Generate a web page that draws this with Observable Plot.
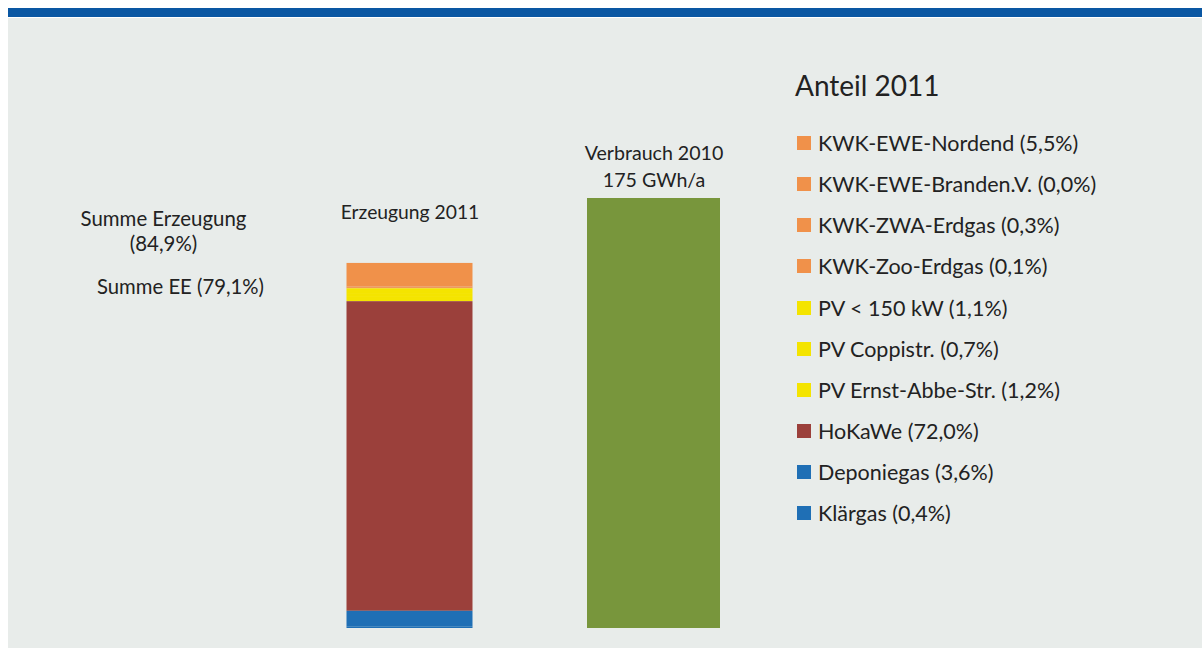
<!DOCTYPE html>
<html>
<head>
<meta charset="utf-8">
<script src="https://cdn.jsdelivr.net/npm/d3@7"></script>
<script src="https://cdn.jsdelivr.net/npm/@observablehq/plot@0.6"></script>
<style>
  html, body { margin: 0; padding: 0; background: #ffffff; }
  body { width: 1202px; height: 648px; position: relative; overflow: hidden; font-family: Lato, "Open Sans", sans-serif; color: #222; }
  #topbar { position: absolute; left: 8px; top: 8px; width: 1194px; height: 9px; background: #0a57a3; }
  #panel { position: absolute; left: 8px; top: 18px; width: 1194px; height: 630px; background: #e8ecea; }
  #chart { position: absolute; left: 0; top: 0; }
  #legend { position: absolute; left: 797px; top: 0; }
  #legend .title { position: absolute; left: -2px; top: 68px; font-size: 28px; line-height: 34px; white-space: nowrap; }
  #legend .row { position: absolute; left: 0; height: 42px; display: flex; align-items: center; white-space: nowrap; font-size: 21.5px; }
  #legend .sw { width: 14px; height: 14px; margin-right: 7px; flex: none; }
</style>
</head>
<body>
<div id="topbar"></div>
<div id="panel"></div>
<div id="chart"></div>
<div id="legend"></div>
<script>
// ---- data ----
const bars = ["Erzeugung 2011", "Verbrauch 2010"];
const sources = ["KWK-EWE-Nordend", "KWK-EWE-Branden.V.", "KWK-ZWA-Erdgas", "KWK-Zoo-Erdgas", "PV < 150 kW", "PV Coppistr.", "PV Ernst-Abbe-Str.", "HoKaWe", "Deponiegas", "Klärgas"];
const shares = [5.5, 0.0, 0.3, 0.1, 1.1, 0.7, 1.2, 72.0, 3.6, 0.4];
const sourceColors = ["#f0914a", "#f0914a", "#f0914a", "#f0914a", "#f4e400", "#f4e400", "#f4e400", "#9b403b", "#1f6fb5", "#1f6fb5"];
const consumption = 100;           // Verbrauch 2010 = 175 GWh/a = 100 %
const consumptionLabel = "Verbrauch 2010\n175 GWh/a";
const consumptionColor = "#78963c";
const sumTotal = 84.9;
const sumEE = 79.1;
const sumTotalLabel = "Summe Erzeugung\n(84,9%)";
const sumEELabel = "Summe EE (79,1%)";
const legendTitle = "Anteil 2011";

const fmt = v => v.toFixed(1).replace(".", ",");

// stacking order: bottom = Klärgas ... top = KWK-EWE-Nordend
const stackData = sources.map((s, i) => ({bar: bars[0], source: s, value: shares[i], order: sources.length - i}));

const chart = Plot.plot({
  width: 1202,
  height: 648,
  marginTop: 198,
  marginBottom: 20,
  marginLeft: 0,
  marginRight: 0,
  style: {background: "transparent", fontFamily: "Lato, 'Open Sans', sans-serif", color: "#222"},
  x: {type: "band", domain: bars, range: [342.5, 720], paddingInner: 0.456, paddingOuter: 0, axis: null},
  y: {domain: [0, 100], axis: null},
  color: {domain: sources, range: sourceColors},
  marks: [
    Plot.barY(stackData, Plot.stackY({
      x: "bar", y: "value", fill: "source", order: "order", insetLeft: 3.5, insetRight: 3.5
    })),
    Plot.barY([{bar: bars[1], value: consumption}], {x: "bar", y: "value", fill: consumptionColor}),
    Plot.text([{bar: bars[0], value: sumTotal}], {x: "bar", y: "value", text: d => d.bar, fontSize: 19.3, dy: -51, fill: "#222"}),
    Plot.text([{bar: bars[1], value: consumption}], {x: "bar", y: "value", text: () => consumptionLabel, fontSize: 19.6, lineHeight: 1.38, dy: -34, fill: "#222"}),
    Plot.text([{value: sumTotal}], {y: "value", frameAnchor: "left", textAnchor: "middle", dx: 163, dy: -33, lineHeight: 1.25, text: () => sumTotalLabel, fontSize: 20.4, fill: "#222"}),
    Plot.text([{value: sumEE}], {y: "value", frameAnchor: "left", textAnchor: "middle", dx: 180, dy: -1, text: () => sumEELabel, fontSize: 20.3, fill: "#222"})
  ]
});
document.getElementById("chart").appendChild(chart);

// ---- legend ----
const legend = d3.select("#legend");
legend.append("div").attr("class", "title").text(legendTitle);
sources.forEach((s, i) => {
  const row = legend.append("div").attr("class", "row").style("top", (122 + i * 41.15) + "px");
  row.append("div").attr("class", "sw").style("background", sourceColors[i]);
  row.append("span").text(`${s} (${fmt(shares[i])}%)`);
});
</script>
</body>
</html>
